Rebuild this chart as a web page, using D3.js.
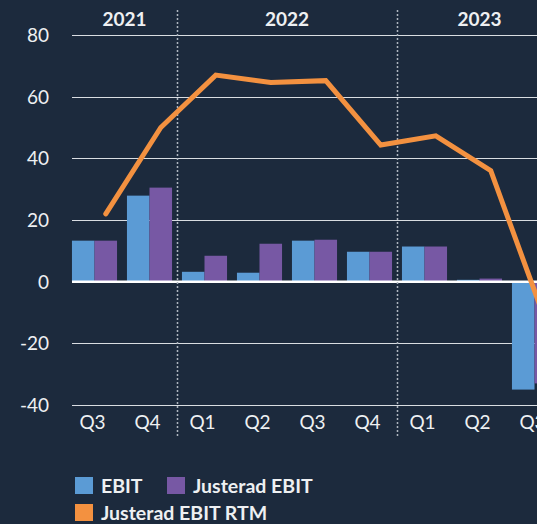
<!DOCTYPE html>
<html>
<head>
<meta charset="utf-8">
<script src="https://cdn.jsdelivr.net/npm/d3@7"></script>
<style>
  html, body { margin: 0; padding: 0; background: #1c2a3d; overflow: hidden; }
  text { font-family: Lato, "Open Sans", sans-serif; }
</style>
</head>
<body>
<div id="chart"></div>
<script>
// data (MSEK)
const quarters = ["Q3", "Q4", "Q1", "Q2", "Q3", "Q4", "Q1", "Q2", "Q3"]
const quarterYears = ["2021", "2021", "2022", "2022", "2022", "2022", "2023", "2023", "2023"]
const years = ["2021", "2022", "2023"]
const ebit = [13.3, 27.9, 3.2, 2.9, 13.3, 9.7, 11.4, 0.6, -35]
const justeradEbit = [13.3, 30.5, 8.4, 12.3, 13.6, 9.7, 11.4, 1.0, -33]
const justeradRtm = [22, 50, 67, 64.6, 65.2, 44.3, 47.3, 36, -13]
const yTicks = [-40, -20, 0, 20, 40, 60, 80]
const seriesNames = ["EBIT", "Justerad EBIT"]

const colors = {
	bg: "#1c2a3d",
	ebit: "#5b9bd5",
	justerad: "#7758a4",
	rtm: "#f39140",
	text: "#eef0f2",
	grid: "#d9dde2",
}

const width = 537
const height = 524
const keys = quarters.map((q, i) => `${q} ${quarterYears[i]}`)

const svg = d3.select("#chart")
	.append("svg")
	.attr("width", width)
	.attr("height", height)
	.style("display", "block")

svg.append("rect")
	.attr("width", width)
	.attr("height", height)
	.attr("fill", colors.bg)

// scales
const x0 = d3.scaleBand()
	.domain(keys)
	.range([67, 562])
	.paddingInner(0.18)
	.paddingOuter(0.09)

const x1 = d3.scaleBand()
	.domain(seriesNames)
	.range([0, x0.bandwidth()])

const y = d3.scaleLinear()
	.domain([-40, 80])
	.range([405, 35])

// gridlines
svg.append("g")
	.attr("class", "grid")
	.selectAll("line")
	.data(yTicks.filter(d => d !== 0))
	.enter()
	.append("line")
	.attr("x1", 72)
	.attr("x2", 562)
	.attr("y1", d => Math.round(y(d)) + 0.5)
	.attr("y2", d => Math.round(y(d)) + 0.5)
	.attr("stroke", colors.grid)
	.attr("stroke-width", 1)

// y tick labels
svg.append("g")
	.selectAll("text")
	.data(yTicks)
	.enter()
	.append("text")
	.attr("x", 49)
	.attr("y", d => y(d))
	.attr("dy", "0.36em")
	.attr("text-anchor", "end")
	.style("font-size", "19px")
	.style("fill", colors.text)
	.text(d => d)

// bars
const rows = keys.map((k, i) => ({ key: k, values: [ebit[i], justeradEbit[i]] }))
const barColor = d3.scaleOrdinal().domain(seriesNames).range([colors.ebit, colors.justerad])

svg.append("g")
	.selectAll("g")
	.data(rows)
	.enter()
	.append("g")
	.attr("transform", d => `translate(${x0(d.key)},0)`)
	.selectAll("rect")
	.data(d => seriesNames.map((s, j) => ({ s, v: d.values[j] })))
	.enter()
	.append("rect")
	.attr("x", d => x1(d.s))
	.attr("width", x1.bandwidth())
	.attr("y", d => y(Math.max(0, d.v)))
	.attr("height", d => Math.abs(y(d.v) - y(0)))
	.attr("fill", d => barColor(d.s))

// zero line
svg.append("line")
	.attr("x1", 72)
	.attr("x2", 562)
	.attr("y1", y(0))
	.attr("y2", y(0))
	.attr("stroke", "#ffffff")
	.attr("stroke-width", 2.5)

// year dividers (dotted)
const dividers = keys.filter((k, i) => i > 0 && quarterYears[i] !== quarterYears[i - 1])
svg.append("g")
	.selectAll("line")
	.data(dividers)
	.enter()
	.append("line")
	.attr("x1", d => Math.round(x0(d) - x0.step() * x0.paddingInner() / 2) + 0.5)
	.attr("x2", d => Math.round(x0(d) - x0.step() * x0.paddingInner() / 2) + 0.5)
	.attr("y1", 10)
	.attr("y2", 436)
	.attr("stroke", "#aeb6c0")
	.attr("stroke-width", 1.5)
	.attr("stroke-dasharray", "2,2")

// RTM line, placed at the centre of the adjusted bar
const line = d3.line()
	.x((d, i) => x0(keys[i]) + x1("Justerad EBIT") + x1.bandwidth() / 2)
	.y(d => y(d))

svg.append("path")
	.datum(justeradRtm)
	.attr("d", line)
	.attr("fill", "none")
	.attr("stroke", colors.rtm)
	.attr("stroke-width", 5)
	.attr("stroke-linecap", "round")
	.attr("stroke-linejoin", "miter")

// quarter labels
svg.append("g")
	.selectAll("text")
	.data(keys)
	.enter()
	.append("text")
	.attr("x", d => x0(d) + x0.bandwidth() / 2 - 2)
	.attr("y", 429)
	.attr("text-anchor", "middle")
	.style("font-size", "19px")
	.style("fill", colors.text)
	.text((d, i) => quarters[i])

// year labels, centred over their quarters
svg.append("g")
	.selectAll("text")
	.data(years)
	.enter()
	.append("text")
	.attr("x", yr => {
		const ks = keys.filter((k, i) => quarterYears[i] === yr)
		const left = x0(ks[0]) - x0.step() * x0.paddingInner() / 2
		const right = x0(ks[ks.length - 1]) + x0.bandwidth() + x0.step() * x0.paddingInner() / 2
		return (Math.max(left, 72) + right) / 2
	})
	.attr("y", 26)
	.attr("text-anchor", "middle")
	.style("font-size", "19px")
	.style("font-weight", "bold")
	.style("fill", colors.text)
	.text(d => d)

// legend
const legendItems = [
	{ label: "EBIT", color: colors.ebit, x: 75, y: 477 },
	{ label: "Justerad EBIT", color: colors.justerad, x: 167, y: 477 },
	{ label: "Justerad EBIT RTM", color: colors.rtm, x: 75, y: 504 },
]

const lg = svg.append("g")
	.selectAll("g")
	.data(legendItems)
	.enter()
	.append("g")
	.attr("transform", d => `translate(${d.x},${d.y})`)

lg.append("rect")
	.attr("width", 18)
	.attr("height", 17)
	.attr("fill", d => d.color)

lg.append("text")
	.attr("x", 26)
	.attr("y", 16)
	.style("font-size", "19.5px")
	.style("font-weight", "bold")
	.style("fill", colors.text)
	.text(d => d.label)
</script>
</body>
</html>
